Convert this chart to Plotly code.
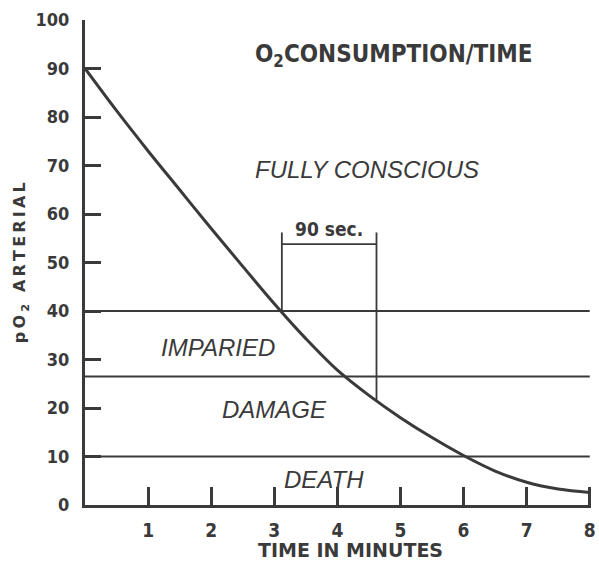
import plotly.graph_objects as go

# ---- data ----
time_min = [0, 0.5, 1, 1.5, 2, 2.5, 3, 3.5, 4, 4.5, 5, 5.5, 6, 6.5, 7, 7.5, 8]
po2_arterial = [90, 81.3, 73, 65, 57, 49.2, 41.5, 34.3, 27.8, 22.6, 18, 13.9, 10.2, 7.0, 4.7, 3.3, 2.6]

zone_limits = [40, 26.5, 10]          # Fully conscious / Impaired / Damage / Death thresholds
zone_labels = ["FULLY CONSCIOUS", "IMPARIED", "DAMAGE", "DEATH"]
zone_label_x = [2.66, 1.17, 2.14, 3.13]
zone_label_y = [69.1, 32.4, 19.6, 5.2]

bracket_x = [3.12, 4.62]               # 90 sec interval
bracket_bottom = [39.6, 21.5]
bracket_top = 56.2
bracket_bar = 53.8
bracket_label = "90 sec."

x_ticks = [1, 2, 3, 4, 5, 6, 7, 8]
y_ticks = [0, 10, 20, 30, 40, 50, 60, 70, 80, 90, 100]

INK = "#3a3a3a"
COND = "DejaVu Sans Condensed, Liberation Sans Narrow, Arial Narrow, sans-serif"
SANS = "Liberation Sans, Arial, Helvetica, sans-serif"
WIDE = "DejaVu Sans, Verdana, sans-serif"
TS = "\u2009"

fig = go.Figure()

# zone threshold lines
for v in zone_limits:
    fig.add_trace(go.Scatter(x=[0, 8], y=[v, v], mode="lines",
                             line=dict(color=INK, width=2.2), hoverinfo="skip"))

# 90 sec bracket
for bx, bb in zip(bracket_x, bracket_bottom):
    fig.add_trace(go.Scatter(x=[bx, bx], y=[bb, bracket_top], mode="lines",
                             line=dict(color=INK, width=1.8), hoverinfo="skip"))
fig.add_trace(go.Scatter(x=bracket_x, y=[bracket_bar, bracket_bar], mode="lines",
                         line=dict(color=INK, width=1.8), hoverinfo="skip"))

# O2 curve
fig.add_trace(go.Scatter(x=time_min, y=po2_arterial, mode="lines",
                         line=dict(color=INK, width=3, shape="spline", smoothing=1.0),
                         hoverinfo="skip"))

annotations = []
for t, x, y in zip(zone_labels, zone_label_x, zone_label_y):
    annotations.append(dict(x=x, y=y, text="<i>" + t + "</i>", showarrow=False,
                            xanchor="left", yanchor="middle",
                            font=dict(family=SANS, size=24, color=INK)))
annotations.append(dict(x=sum(bracket_x) / 2, y=bracket_top + 0.8, text="<b>" + bracket_label + "</b>",
                        showarrow=False, xanchor="center", yanchor="middle",
                        font=dict(family=COND, size=19, color=INK)))
annotations.append(dict(x=2.66, y=92.6, text="<b>O<sub>2</sub>CONSUMPTION/TIME</b>",
                        showarrow=False, xanchor="left", yanchor="middle",
                        font=dict(family=COND, size=24, color=INK)))
# axis titles
annotations.append(dict(xref="paper", yref="paper", x=0.525, y=-0.093,
                        text="<b>TIME IN MINUTES</b>", showarrow=False,
                        xanchor="center", yanchor="middle",
                        font=dict(family=WIDE, size=19, color=INK)))
ytitle = "<b>" + TS.join("pO") + TS + "<sub>2</sub>" + TS + TS.join(" ARTERIAL") + "</b>"
annotations.append(dict(xref="paper", yref="paper", x=-0.127, y=0.50,
                        text=ytitle, showarrow=False, textangle=-90,
                        xanchor="center", yanchor="middle",
                        font=dict(family=WIDE, size=16, color=INK)))

fig.update_layout(
    width=599, height=567,
    margin=dict(l=85, r=8, t=20, b=62),
    paper_bgcolor="white", plot_bgcolor="white",
    showlegend=False,
    annotations=annotations,
    xaxis=dict(range=[0, 8.02], tickvals=x_ticks, ticktext=["<b>%d</b>" % v for v in x_ticks],
               ticks="inside", ticklen=18, tickwidth=2.5, tickcolor=INK, automargin=False,
               showline=True, linecolor=INK, linewidth=3, showgrid=False, zeroline=False,
               tickfont=dict(family=COND, size=19, color=INK), ticklabelstandoff=6),
    yaxis=dict(range=[0, 100], tickvals=y_ticks, ticktext=["<b>%d</b>" % v for v in y_ticks],
               ticks="inside", ticklen=16, tickwidth=2.5, tickcolor=INK, automargin=False,
               showline=True, linecolor=INK, linewidth=3, showgrid=False, zeroline=False,
               tickfont=dict(family=COND, size=18, color=INK), ticklabelstandoff=9),
)

# remove the page's default body margin so the 599x567 figure fills the window exactly
fig.write_html("out.html", config={"displayModeBar": False},
               post_script="document.body.style.margin='0';document.body.style.overflow='hidden';")
